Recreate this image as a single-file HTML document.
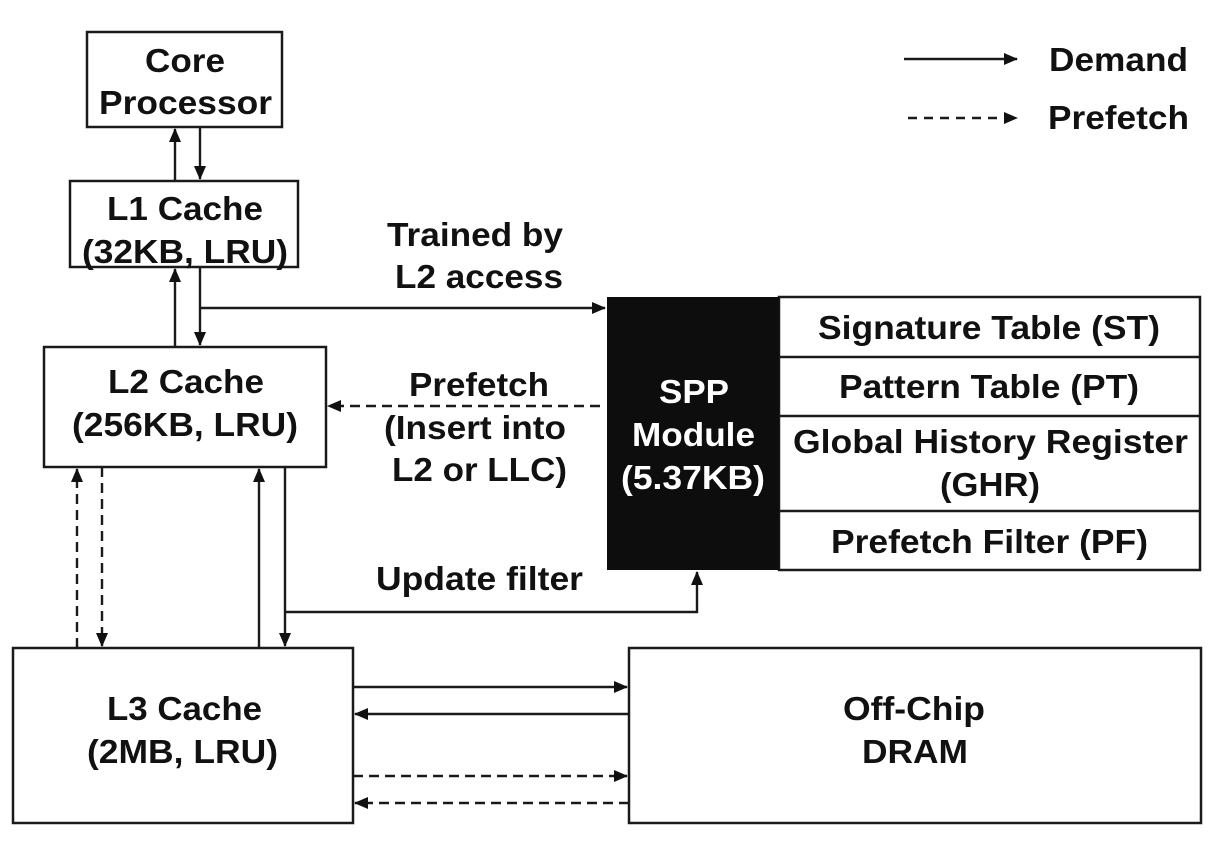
<!DOCTYPE html>
<html><head><meta charset="utf-8"><style>
html,body{margin:0;padding:0;background:#fff;}
svg{display:block;}
text{font-family:"Liberation Sans",Arial,sans-serif;font-weight:bold;font-size:33px;fill:#111;}
</style></head><body>
<svg width="1220" height="842" viewBox="0 0 1220 842" xmlns="http://www.w3.org/2000/svg">
<defs>
<marker id="a" markerWidth="16" markerHeight="14" refX="13" refY="6" orient="auto" markerUnits="userSpaceOnUse">
<path d="M0,0 L14,6 L0,12 z" fill="#111"/></marker>
</defs>
<g fill="none" stroke="#1a1a1a" stroke-width="2.5">
<rect x="87" y="32" width="195" height="95"/>
<rect x="70" y="181" width="228" height="86"/>
<rect x="44" y="347" width="282" height="120"/>
<rect x="13" y="648" width="340" height="175"/>
<rect x="629" y="648" width="572" height="175"/>
<rect x="779" y="297" width="421" height="273"/>
<line x1="779" y1="357" x2="1200" y2="357"/>
<line x1="779" y1="416" x2="1200" y2="416"/>
<line x1="779" y1="511" x2="1200" y2="511"/>
</g>
<rect x="607" y="297" width="172" height="273" fill="#0d0d0d"/>
<g fill="none" stroke="#1a1a1a" stroke-width="2.4">
<line x1="175" y1="181" x2="175" y2="129" marker-end="url(#a)"/>
<line x1="200" y1="127" x2="200" y2="179" marker-end="url(#a)"/>
<line x1="175" y1="347" x2="175" y2="269" marker-end="url(#a)"/>
<line x1="200" y1="267" x2="200" y2="345" marker-end="url(#a)"/>
<line x1="200" y1="308" x2="605" y2="308" marker-end="url(#a)"/>
<line x1="600" y1="406" x2="328" y2="406" stroke-dasharray="10,6" marker-end="url(#a)"/>
<line x1="77" y1="648" x2="77" y2="469" stroke-dasharray="10,6" marker-end="url(#a)"/>
<line x1="102" y1="467" x2="102" y2="646" stroke-dasharray="10,6" marker-end="url(#a)"/>
<line x1="259" y1="648" x2="259" y2="469" marker-end="url(#a)"/>
<line x1="285" y1="467" x2="285" y2="646" marker-end="url(#a)"/>
<polyline points="285,612 697,612 697,572" marker-end="url(#a)"/>
<line x1="353" y1="687" x2="627" y2="687" marker-end="url(#a)"/>
<line x1="629" y1="714" x2="355" y2="714" marker-end="url(#a)"/>
<line x1="353" y1="776" x2="627" y2="776" stroke-dasharray="10,6" marker-end="url(#a)"/>
<line x1="629" y1="803" x2="355" y2="803" stroke-dasharray="10,6" marker-end="url(#a)"/>
<line x1="904" y1="59" x2="1017" y2="59" marker-end="url(#a)"/>
<line x1="908" y1="118" x2="1017" y2="118" stroke-dasharray="9,7" marker-end="url(#a)"/>
</g>
<text x="145" y="72" textLength="80" lengthAdjust="spacingAndGlyphs">Core</text>
<text x="99" y="114" textLength="173" lengthAdjust="spacingAndGlyphs">Processor</text>
<text x="107" y="220" textLength="156" lengthAdjust="spacingAndGlyphs">L1 Cache</text>
<text x="82" y="263" textLength="206" lengthAdjust="spacingAndGlyphs">(32KB, LRU)</text>
<text x="387" y="246" textLength="176" lengthAdjust="spacingAndGlyphs">Trained by</text>
<text x="395" y="288" textLength="168" lengthAdjust="spacingAndGlyphs">L2 access</text>
<text x="108" y="393" textLength="156" lengthAdjust="spacingAndGlyphs">L2 Cache</text>
<text x="72" y="436" textLength="226" lengthAdjust="spacingAndGlyphs">(256KB, LRU)</text>
<text x="409" y="396" textLength="140" lengthAdjust="spacingAndGlyphs">Prefetch</text>
<text x="384" y="439" textLength="182" lengthAdjust="spacingAndGlyphs">(Insert into</text>
<text x="392" y="481" textLength="175" lengthAdjust="spacingAndGlyphs">L2 or LLC)</text>
<text x="659" y="403" textLength="70" lengthAdjust="spacingAndGlyphs" style="fill:#fff">SPP</text>
<text x="632" y="446" textLength="123" lengthAdjust="spacingAndGlyphs" style="fill:#fff">Module</text>
<text x="621" y="489" textLength="144" lengthAdjust="spacingAndGlyphs" style="fill:#fff">(5.37KB)</text>
<text x="818" y="339" textLength="342" lengthAdjust="spacingAndGlyphs">Signature Table (ST)</text>
<text x="839" y="398" textLength="300" lengthAdjust="spacingAndGlyphs">Pattern Table (PT)</text>
<text x="793" y="453" textLength="395" lengthAdjust="spacingAndGlyphs">Global History Register</text>
<text x="940" y="496" textLength="100" lengthAdjust="spacingAndGlyphs">(GHR)</text>
<text x="831" y="553" textLength="317" lengthAdjust="spacingAndGlyphs">Prefetch Filter (PF)</text>
<text x="376" y="590" textLength="207" lengthAdjust="spacingAndGlyphs">Update filter</text>
<text x="107" y="720" textLength="155" lengthAdjust="spacingAndGlyphs">L3 Cache</text>
<text x="87" y="763" textLength="191" lengthAdjust="spacingAndGlyphs">(2MB, LRU)</text>
<text x="843" y="720" textLength="142" lengthAdjust="spacingAndGlyphs">Off-Chip</text>
<text x="862" y="763" textLength="106" lengthAdjust="spacingAndGlyphs">DRAM</text>
<text x="1049" y="71" textLength="139" lengthAdjust="spacingAndGlyphs">Demand</text>
<text x="1048" y="129" textLength="141" lengthAdjust="spacingAndGlyphs">Prefetch</text>
</svg>
</body></html>
